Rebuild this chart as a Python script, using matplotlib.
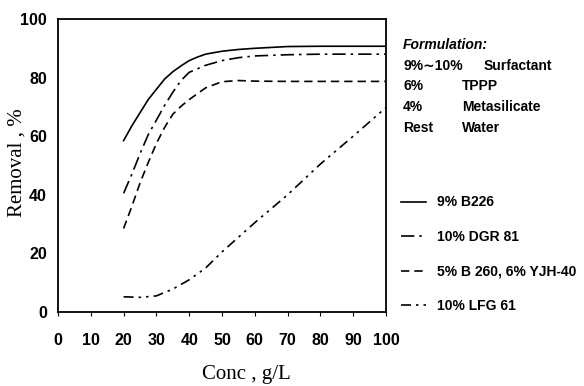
import numpy as np
import matplotlib
matplotlib.use('Agg')
from matplotlib import pyplot as plt

#%% Data

conc_b226 = [20, 22.5, 25, 27.5, 30, 32.5, 35, 37.5, 40, 42.5, 45, 50, 55, 60, 70, 80, 90, 100]
rem_b226  = [58.5, 63.5, 68, 72.5, 76, 79.5, 82, 84, 85.8, 87, 88, 89, 89.6, 90, 90.6, 90.7, 90.7, 90.7]

conc_dgr = [20, 22.5, 25, 27.5, 30, 32.5, 35, 37.5, 40, 45, 50, 55, 60, 70, 80, 90, 100]
rem_dgr  = [40.5, 47, 54, 60.5, 65.5, 70.5, 75, 79, 81.8, 84.2, 85.8, 86.8, 87.4, 87.8, 88, 88, 88]

conc_b260 = [20, 22.5, 25, 27.5, 30, 32.5, 35, 37.5, 40, 45, 50, 55, 60, 70, 80, 90, 100]
rem_b260  = [28.5, 36, 44, 51, 57.5, 63, 67.5, 70.2, 72.5, 76.5, 78.6, 79, 78.8, 78.7, 78.7, 78.7, 78.7]

conc_lfg = [20, 25, 30, 35, 40, 45, 50, 55, 60, 70, 80, 90, 100]
rem_lfg  = [5.2, 5, 5.5, 7.8, 11, 15, 20.5, 25.5, 30.5, 40, 50.5, 60, 69.8]

labels = ['9% B226', '10% DGR 81', '5% B 260, 6% YJH-40', '10% LFG 61']
xticks = [0, 10, 20, 30, 40, 50, 60, 70, 80, 90, 100]
yticks = [0, 20, 40, 60, 80, 100]

formulation = [('9%\u223c10%', 'Surfactant'), ('6%', 'TPPP'), ('4%', 'Metasilicate'), ('Rest', 'Water')]

#%% Plot

sans = ['Liberation Sans', 'DejaVu Sans']
serif = 'Liberation Serif'
fs = 10

fig = plt.figure(figsize=(5.84, 3.86), dpi=100)
ax = fig.add_axes([58/584, 1-312/386, (386-58)/584, (312-19)/386])

lw = 1.2
ax.plot(conc_b226, rem_b226, color='k', lw=lw, ls='-', label=labels[0])
ax.plot(conc_dgr, rem_dgr, color='k', lw=lw, ls=(0, (8, 3, 1.5, 3)), label=labels[1])
ax.plot(conc_b260, rem_b260, color='k', lw=lw, ls=(0, (5, 3)), label=labels[2])
ax.plot(conc_lfg, rem_lfg, color='k', lw=lw, ls=(0, (6, 3, 1.5, 3, 1.5, 3)), label=labels[3])

ax.set_xlim(0, 100)
ax.set_ylim(0, 100)
ax.set_xticks(xticks)
ax.set_yticks(yticks)
ax.tick_params(axis='x', direction='out', length=3, width=0.8, pad=12)
ax.tick_params(axis='y', length=0, pad=8)
for lab in ax.get_xticklabels() + ax.get_yticklabels():
    lab.set_fontfamily(sans)
    lab.set_fontweight('bold')
    lab.set_fontsize(11.5)
for s in ax.spines.values():
    s.set_linewidth(1.3)

fig.text(17/584, 1-163/386, 'Removal , %', rotation=90, ha='center', va='center',
         family=serif, fontsize=15)
fig.text(246/584, 1-375/386, 'Conc , g/L', ha='center', va='center',
         family=serif, fontsize=15)

# Formulation block
fig.text(403/584, 1-45/386, 'Formulation:', ha='left', va='center', family=sans,
         fontweight='bold', fontstyle='italic', fontsize=fs)
col2 = [484, 462, 462, 462]
for k, (a, b) in enumerate(formulation):
    y = 1-(66+20.5*k)/386
    fig.text(403/584, y, a, ha='left', va='center', family=sans, fontweight='bold', fontsize=fs)
    fig.text(col2[k]/584, y, b, ha='left', va='center', family=sans, fontweight='bold', fontsize=fs)

leg = ax.legend(loc='upper left', bbox_to_anchor=(388/584, 1-183/386),
                bbox_transform=fig.transFigure, frameon=False,
                prop={'family': sans, 'weight': 'bold', 'size': fs},
                handlelength=1.8, handletextpad=0.85, labelspacing=1.48)

plt.savefig('out.png', dpi=100)
